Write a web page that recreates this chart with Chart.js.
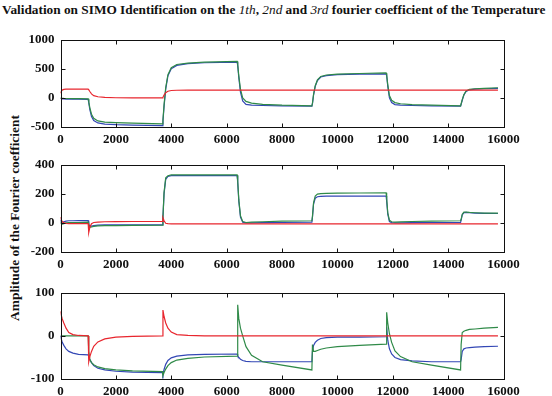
<!DOCTYPE html>
<html>
<head>
<meta charset="utf-8">
<script src="https://cdn.jsdelivr.net/npm/chart.js@4.4.1/dist/chart.umd.min.js"></script>
<style>
  html, body { margin: 0; padding: 0; background: #fff; }
  #wrap { position: relative; width: 552px; height: 396px; overflow: hidden; font-family: 'Liberation Serif', serif; color: #111; }
  #title { position: absolute; left: 2px; top: 2px; white-space: nowrap; font-size: 13.3px; font-weight: bold; }
  #title i { font-weight: normal; }
  #ylab { position: absolute; left: 15px; top: 218px; white-space: nowrap; font-size: 13.4px; font-weight: bold;
          transform: translate(-50%, -50%) rotate(-90deg); }
  canvas { position: absolute; left: 0; }
</style>
</head>
<body>
<div id="wrap">
  <div id="title">Validation on SIMO Identification on the <i>1th</i>, <i>2nd</i> and <i>3rd</i> fourier coefficient of the Temperature</div>
  <div id="ylab">Amplitude of the Fourier coefficient</div>
  <canvas id="c1"></canvas>
  <canvas id="c2"></canvas>
  <canvas id="c3"></canvas>
</div>
<script>
// --- time axis (shared by all series) ---
const time = [
  0, 20, 60, 120, 200, 300, 450, 650, 1000,
  1020, 1060, 1120, 1200, 1350, 1600, 2000, 2600, 3680,
  3700, 3740, 3800, 3880, 4000, 4200, 4600, 5200, 6380,
  6400, 6440, 6500, 6580, 6700, 6900, 7300, 8000, 9080,
  9100, 9140, 9200, 9280, 9400, 9600, 10000, 10800, 11760,
  11780, 11820, 11880, 11960, 12080, 12280, 12700, 13400, 14450,
  14470, 14510, 14570, 14650, 14770, 14970, 15300, 15800
];
const xTicks = [0, 2000, 4000, 6000, 8000, 10000, 12000, 14000, 16000];

// --- 1st fourier coefficient ---
const c1Ticks = [-500, 0, 500, 1000];
const c1Blue = [
  -5, -10, -15, -18, -20, -20, -22, -22, -25,
  -80, -200, -320, -390, -430, -450, -460, -468, -475,
  -400, -150, 150, 380, 500, 560, 590, 605, 615,
  560, 350, 100, -50, -110, -125, -130, -135, -140,
  -100, 50, 200, 300, 360, 385, 400, 410, 415,
  380, 200, 0, -80, -115, -125, -130, -135, -140,
  -110, -40, 50, 110, 140, 150, 158, 165
];
const c1Green = [
  0, -3, -5, -8, -10, -10, -12, -12, -15,
  -60, -170, -280, -350, -395, -415, -425, -435, -445,
  -380, -120, 180, 400, 520, 575, 600, 615, 630,
  580, 380, 150, 0, -60, -90, -110, -125, -135,
  -90, 60, 210, 310, 370, 395, 410, 420, 430,
  400, 230, 40, -40, -80, -100, -115, -125, -135,
  -100, -30, 60, 120, 148, 158, 165, 175
];
const c1Red = [
  80, 110, 135, 148, 150, 150, 150, 150, 150,
  140, 110, 70, 40, 20, 8, 3, 0, 0,
  10, 50, 90, 115, 128, 132, 133, 133, 133,
  133, 133, 133, 133, 133, 133, 133, 133, 133,
  133, 133, 133, 133, 133, 133, 133, 133, 133,
  133, 133, 133, 133, 133, 133, 133, 133, 133,
  133, 133, 133, 133, 133, 133, 133, 133
];

// --- 2nd fourier coefficient ---
const c2Ticks = [-200, 0, 200, 400];
const c2Blue = [
  20, 10, 5, 8, 12, 15, 15, 16, 16,
  -10, -25, -22, -18, -15, -14, -14, -13, -13,
  40, 200, 300, 320, 325, 325, 325, 325, 325,
  280, 150, 40, 5, 0, 0, 2, 3, 5,
  40, 130, 170, 180, 183, 184, 185, 185, 185,
  150, 60, 10, 2, 0, 0, 2, 3, 4,
  20, 55, 70, 72, 70, 68, 66, 65
];
const c2Green = [
  5, -5, -8, -5, 0, 2, 3, 3, 5,
  -15, -30, -28, -24, -20, -19, -18, -17, -16,
  40, 210, 310, 325, 330, 330, 330, 330, 330,
  290, 160, 50, 10, 3, 5, 8, 12, 15,
  45, 140, 185, 198, 202, 204, 205, 206, 207,
  170, 70, 18, 8, 5, 7, 10, 13, 15,
  25, 60, 75, 75, 72, 70, 68, 67
];
const c2Red = [
  40, 25, 10, 0, -3, -5, -5, -5, -5,
  -65, -30, -5, 3, 6, 8, 9, 10, 10,
  35, 15, -2, -5, -6, -6, -6, -6, -6,
  -6, -6, -6, -6, -6, -6, -6, -6, -6,
  -6, -6, -6, -6, -6, -6, -6, -6, -6,
  -6, -6, -6, -6, -6, -6, -6, -6, -6,
  -6, -6, -6, -6, -6, -6, -6, -6
];

// --- 3rd fourier coefficient ---
const c3Ticks = [-100, 0, 100];
const c3Blue = [
  0, -6, -14, -22, -30, -36, -40, -43, -44,
  -48, -55, -62, -69, -75, -79, -82, -84, -85,
  -90, -78, -66, -57, -51, -47, -44, -43, -42,
  -46, -50, -54, -57, -59, -60, -60, -60, -60,
  -35, -22, -15, -10, -6, -4, -3, -3, -2,
  20, -10, -30, -42, -50, -55, -58, -60, -60,
  -55, -36, -30, -28, -27, -26, -25, -24
];
const c3Green = [
  0, 0, 0, 0, 0, 0, 0, 0, 0,
  -35, -55, -62, -67, -72, -76, -79, -81, -83,
  -92, -85, -77, -69, -62, -56, -52, -49, -47,
  72, 40, 18, 0, -25, -45, -60, -68, -79,
  -20, -36, -36, -34, -31, -28, -25, -22, -19,
  55, 30, 5, -15, -35, -48, -60, -68, -79,
  -20, 8, 11, 13, 15, 16, 18, 20
];
const c3Red = [
  57, 50, 40, 30, 18, 8, 3, 1, 0,
  -60, -48, -36, -24, -14, -7, -3, -1, 0,
  60, 45, 30, 18, 9, 3, 1, 0, 0,
  0, 0, 0, 0, 0, 0, 0, 0, 0,
  0, 0, 0, 0, 0, 0, 0, 0, 0,
  0, 0, 0, 0, 0, 0, 0, 0, 0,
  0, 0, 0, 0, 0, 0, 0, 0
];

const BLUE = '#3347b5', GREEN = '#2f8a48', RED = '#e8262e';
const tickFont = { family: 'Liberation Serif', size: 13, weight: 'bold' };

// matlab style box with inward ticks
const boxPlugin = {
  id: 'box',
  afterDatasetsDraw(chart) {
    const { ctx, chartArea: a, scales: { x, y } } = chart;
    const l = Math.round(a.left) + 0.5, r = Math.round(a.right) + 0.5;
    const t = Math.round(a.top) + 0.5, b = Math.round(a.bottom) + 0.5;
    ctx.save();
    ctx.strokeStyle = '#111';
    ctx.lineWidth = 1;
    ctx.strokeRect(l, t, r - l, b - t);
    ctx.beginPath();
    x.ticks.forEach(tk => {
      const px = Math.round(x.getPixelForValue(tk.value)) + 0.5;
      ctx.moveTo(px, b); ctx.lineTo(px, b - 4);
      ctx.moveTo(px, t); ctx.lineTo(px, t + 4);
    });
    y.ticks.forEach(tk => {
      const py = Math.round(y.getPixelForValue(tk.value)) + 0.5;
      ctx.moveTo(l, py); ctx.lineTo(l + 4, py);
      ctx.moveTo(r, py); ctx.lineTo(r - 4, py);
    });
    ctx.stroke();
    ctx.restore();
  }
};

const toXY = vals => vals.map((v, i) => ({ x: time[i], y: v }));

function makeChart(id, areaTop, areaH, yTicks, blue, green, red) {
  const padTop = 10, xAxisH = 24;
  const cv = document.getElementById(id);
  cv.width = 552;
  cv.height = padTop + areaH + xAxisH;
  cv.style.top = (areaTop - padTop) + 'px';

  const line = (data, color) => ({
    data: toXY(data), borderColor: color, borderWidth: 1.2,
    pointRadius: 0, tension: 0, fill: false
  });

  return new Chart(cv, {
    type: 'line',
    data: { datasets: [line(red, RED), line(green, GREEN), line(blue, BLUE)] },
    options: {
      responsive: false,
      animation: false,
      devicePixelRatio: 1,
      layout: { padding: { top: padTop, left: 0, right: 48.5, bottom: 0 } },
      plugins: { legend: { display: false }, tooltip: { enabled: false } },
      scales: {
        x: {
          type: 'linear', min: 0, max: 16000,
          grid: { display: false, drawTicks: false }, border: { display: false },
          afterBuildTicks: s => { s.ticks = xTicks.map(v => ({ value: v })); },
          afterFit: s => { s.height = xAxisH; },
          ticks: { font: tickFont, color: '#111', padding: 5, maxRotation: 0, autoSkip: false,
                   callback: v => String(v) }
        },
        y: {
          min: yTicks[0], max: yTicks[yTicks.length - 1],
          grid: { display: false, drawTicks: false }, border: { display: false },
          afterBuildTicks: s => { s.ticks = yTicks.map(v => ({ value: v })); },
          afterFit: s => { s.width = 60.5; },
          ticks: { font: tickFont, color: '#111', padding: 6, callback: v => String(v) }
        }
      }
    },
    plugins: [boxPlugin]
  });
}

makeChart('c1', 35.5, 91.5, c1Ticks, c1Blue, c1Green, c1Red);
makeChart('c2', 161, 91.5, c2Ticks, c2Blue, c2Green, c2Red);
makeChart('c3', 288.7, 90, c3Ticks, c3Blue, c3Green, c3Red);
</script>
</body>
</html>
